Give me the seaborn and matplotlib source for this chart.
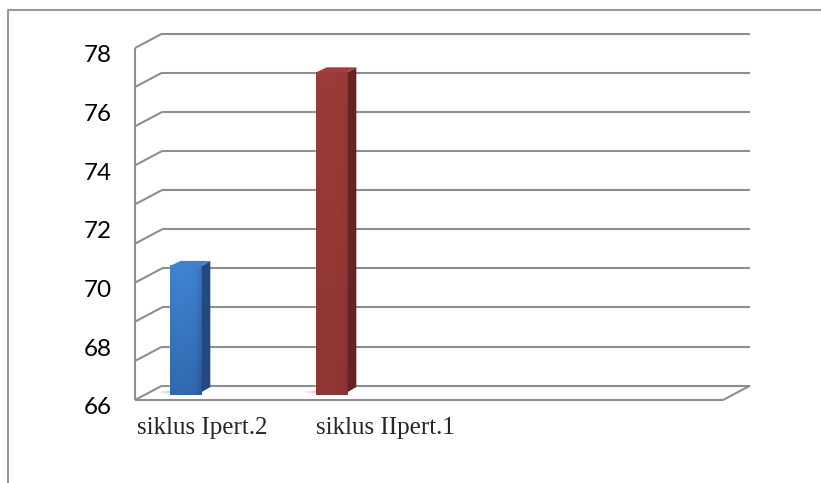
import numpy as np
import matplotlib
matplotlib.use("Agg")
import matplotlib.pyplot as plt
import seaborn as sns
import pandas as pd
from matplotlib import transforms as mtransforms
from matplotlib.colors import LinearSegmentedColormap
from matplotlib.patches import Polygon, Ellipse
from matplotlib.lines import Line2D

# ---------------- data ----------------
categories = ["siklus Ipert.2", "siklus IIpert.1"]
values = [70.4, 77.0]
y_ticks = [66, 68, 70, 72, 74, 76, 78]
grid_levels = [66, 67.33, 68.67, 70, 71.33, 72.67, 74, 75.33, 76.67, 78]

# ---------------- style ----------------
front_light = ["#4187d6", "#9c3c3a"]
front_dark = ["#2a5b9c", "#8a3230"]
side_colors = ["#234a7c", "#662321"]
top_colors = ["#3f80cf", "#a33e3b"]
line_col = "#8e8e8e"
label_dx_px = [16, 53]

sns.set_style("white")
plt.rcParams["font.family"] = ["Lato", "DejaVu Sans"]

W, H = 821, 483
fig = plt.figure(figsize=(W / 100, H / 100), dpi=100)
ax = fig.add_axes([148 / W, 1 - 395 / H, 588 / W, 352 / H])
ax.patch.set_alpha(0)

df = pd.DataFrame({"cat": categories, "val": values})
sns.barplot(data=df, x="cat", y="val", hue="cat", palette=front_light,
            width=0.217, legend=False, ax=ax, saturation=1, zorder=5)
ax.set_xlim(-0.26, 3.767)
ax.set_ylim(66, 78)
for s in ax.spines.values():
    s.set_visible(False)
ax.set_xlabel("")
ax.set_ylabel("")


def off(dx, dy):
    return mtransforms.ScaledTranslation(dx / fig.dpi, dy / fig.dpi, fig.dpi_scale_trans)


blend = mtransforms.blended_transform_factory(ax.transAxes, ax.transData)
back = blend + off(14, 9.3)
front = blend + off(-13, -5)
to_axes = ax.transAxes.inverted()

lkw = dict(color=line_col, lw=1.5, clip_on=False, solid_capstyle="butt", zorder=1)

# back wall gridlines
for v in grid_levels:
    ax.plot([0, 1], [v, v], transform=back, **lkw)
    # left-wall diagonals
    p1 = to_axes.transform(front.transform((0, v)))
    p2 = to_axes.transform(back.transform((0, v)))
    ax.plot([p1[0], p2[0]], [p1[1], p2[1]], transform=ax.transAxes, **lkw)

# left wall front edge
ax.plot([0, 0], [66, 78], transform=front, **lkw)
# floor front line and right edge
ax.plot([0, 1], [66, 66], transform=front, **lkw)
p1 = to_axes.transform(front.transform((1, 66)))
p2 = to_axes.transform(back.transform((1, 66)))
ax.plot([p1[0], p2[0]], [p1[1], p2[1]], transform=ax.transAxes, **lkw)

# 3D bar faces
dxp, dyp = 8.5, 5.0
to_data = ax.transData.inverted()
for i, p in enumerate(ax.patches):
    x0, w, top = p.get_x(), p.get_width(), p.get_height()
    bot = 66
    # soft shadow at the base
    for k, a in enumerate([0.10, 0.15, 0.22]):
        ax.add_patch(Ellipse((x0 + w * 0.35, bot + 0.1), w * (1.5 - 0.25 * k), 0.16 - 0.03 * k,
                             color="#9a9a9a", alpha=a, lw=0, zorder=3, clip_on=False))
    # gradient front face
    ny, nx = 100, 40
    vv = np.linspace(0, 1, ny).reshape(-1, 1)
    hh = np.linspace(0, 1, nx).reshape(1, -1)
    Z = 0.25 + 0.6 * vv - 0.25 * np.clip(hh - 0.8, 0, None) / 0.2 + 0.1 * (1 - np.abs(hh - 0.35) * 2)
    Z = np.clip(Z, 0, 1)
    cmap = LinearSegmentedColormap.from_list("g%d" % i, [front_dark[i], front_light[i]])
    ax.imshow(Z, extent=[x0, x0 + w, bot, top], origin="lower", aspect="auto",
              cmap=cmap, vmin=0, vmax=1, zorder=6, clip_on=False)
    # side face
    d_br = ax.transData.transform((x0 + w, bot))
    d_tr = ax.transData.transform((x0 + w, top))
    d_tl = ax.transData.transform((x0, top))
    side = [d_br + [0, 3], d_tr, d_tr + [dxp, dyp], d_br + [dxp, dyp + 3]]
    ax.add_patch(Polygon(to_data.transform(side), closed=True, color=side_colors[i],
                         lw=0, zorder=6, clip_on=False))
    topf = [d_tl, d_tr, d_tr + [dxp, dyp], d_tl + [dxp + 2, dyp]]
    ax.add_patch(Polygon(to_data.transform(topf), closed=True, color=top_colors[i],
                         lw=0, zorder=6, clip_on=False))

ax.set_xlim(-0.26, 3.767)
ax.set_ylim(66, 78)

# ticks
ax.set_yticks(y_ticks)
ax.set_yticklabels([str(t) for t in y_ticks])
ax.tick_params(axis="y", length=0, pad=26, labelsize=17.5, labelcolor="black")
for lbl in ax.get_yticklabels():
    lbl.set_transform(lbl.get_transform() + off(0, -11))

ax.set_xticks(range(len(categories)))
ax.set_xticklabels(categories, family=["Liberation Serif", "DejaVu Serif"], fontsize=18)
ax.tick_params(axis="x", length=0, pad=16)
for lbl, dx in zip(ax.get_xticklabels(), label_dx_px):
    lbl.set_transform(lbl.get_transform() + off(dx, 0))

# outer frame (top and left)
fx = 8 / W
fy = 1 - 10 / H
fig.add_artist(Line2D([fx, fx, 1.0], [0.0, fy, fy], transform=fig.transFigure,
                      color="#9a9a9a", lw=1.5))

fig.savefig("out.png", dpi=100)
